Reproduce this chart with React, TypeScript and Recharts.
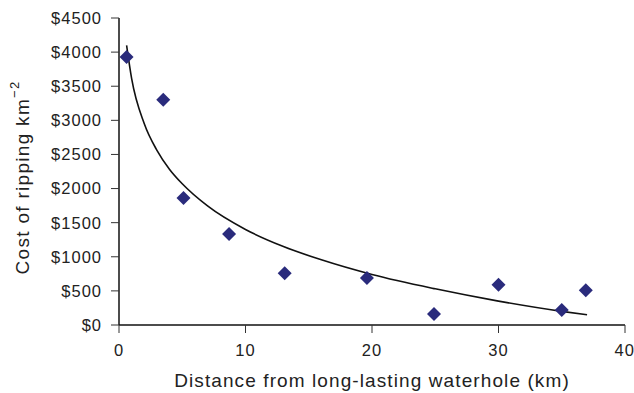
import {
  ComposedChart,
  Scatter,
  Line,
  XAxis,
  YAxis,
} from "recharts";

// distance from waterhole (km) and cost of ripping per km2
const distKm = [0.6, 3.5, 5.1, 8.7, 13.1, 19.6, 24.9, 30.0, 35.0, 36.9];
const costUsd = [3930, 3300, 1860, 1335, 760, 690, 160, 590, 220, 510];

// trend line
const trendKm = [0.6, 1, 2, 3, 4, 5, 7, 10, 13, 16, 20, 25, 30, 35, 37];
const trendUsd = [4100, 3610, 2950, 2560, 2280, 2070, 1745, 1400, 1150, 955, 740, 530, 350, 200, 150];

const xTicks = [0, 10, 20, 30, 40];
const yTicks = [0, 500, 1000, 1500, 2000, 2500, 3000, 3500, 4000, 4500];

const points = distKm.map((d, i) => ({ dist: d, cost: costUsd[i] }));
const trend = trendKm.map((d, i) => ({ dist: d, fit: trendUsd[i] }));

const FONT = "'Liberation Sans', Arial, sans-serif";
const INK = "#222";

const Diamond = (props: any) => {
  const { cx, cy } = props;
  const r = 7;
  return (
    <polygon
      points={`${cx},${cy - r} ${cx + r},${cy} ${cx},${cy + r} ${cx - r},${cy}`}
      fill="#2a2b7c"
    />
  );
};

const YLabel = (props: any) => {
  const { viewBox } = props;
  const cx = 22;
  const cy = viewBox.y + viewBox.height / 2 + 6;
  return (
    <text
      x={cx}
      y={cy}
      transform={`rotate(-90, ${cx}, ${cy})`}
      textAnchor="middle"
      dominantBaseline="central"
      fontFamily={FONT}
      fontSize={19}
      letterSpacing={1.3}
      fill={INK}
    >
      Cost of ripping km
      <tspan fontSize={13} dy={-8}>
        −2
      </tspan>
    </text>
  );
};

const XLabel = (props: any) => {
  const { viewBox } = props;
  const cx = viewBox.x + viewBox.width / 2;
  return (
    <text
      x={cx}
      y={387}
      textAnchor="middle"
      fontFamily={FONT}
      fontSize={19}
      letterSpacing={1.1}
      fill={INK}
    >
      Distance from long-lasting waterhole (km)
    </text>
  );
};

export default function App() {
  return (
    <div style={{ position: "absolute", left: 0, top: 0 }}>
      <ComposedChart
        width={634}
        height={393}
        margin={{ top: 18, right: 9, bottom: 2, left: 51 }}
      >
        <XAxis
          type="number"
          dataKey="dist"
          domain={[0, 40]}
          ticks={xTicks}
          allowDataOverflow
          axisLine={{ stroke: "#111", strokeWidth: 1.5 }}
          tickLine={{ stroke: "#333" }}
          tickSize={8}
          tickMargin={11}
          height={66}
          tick={{ fontFamily: FONT, fontSize: 16.5, letterSpacing: 1, fill: INK }}
          label={<XLabel />}
        />
        <YAxis
          type="number"
          domain={[0, 4500]}
          ticks={yTicks}
          allowDataOverflow
          axisLine={{ stroke: "#111", strokeWidth: 1.5 }}
          tickLine={{ stroke: "#333" }}
          tickSize={8}
          tickMargin={9}
          width={68}
          tickFormatter={(v: number) => `$${v}`}
          tick={{ fontFamily: FONT, fontSize: 16.5, letterSpacing: 1, fill: INK }}
          label={<YLabel />}
        />
        <Line
          data={trend}
          dataKey="fit"
          type="monotone"
          stroke="#111"
          strokeWidth={1.6}
          dot={false}
          activeDot={false}
          isAnimationActive={false}
        />
        <Scatter
          data={points}
          dataKey="cost"
          shape={<Diamond />}
          isAnimationActive={false}
        />
      </ComposedChart>
    </div>
  );
}
